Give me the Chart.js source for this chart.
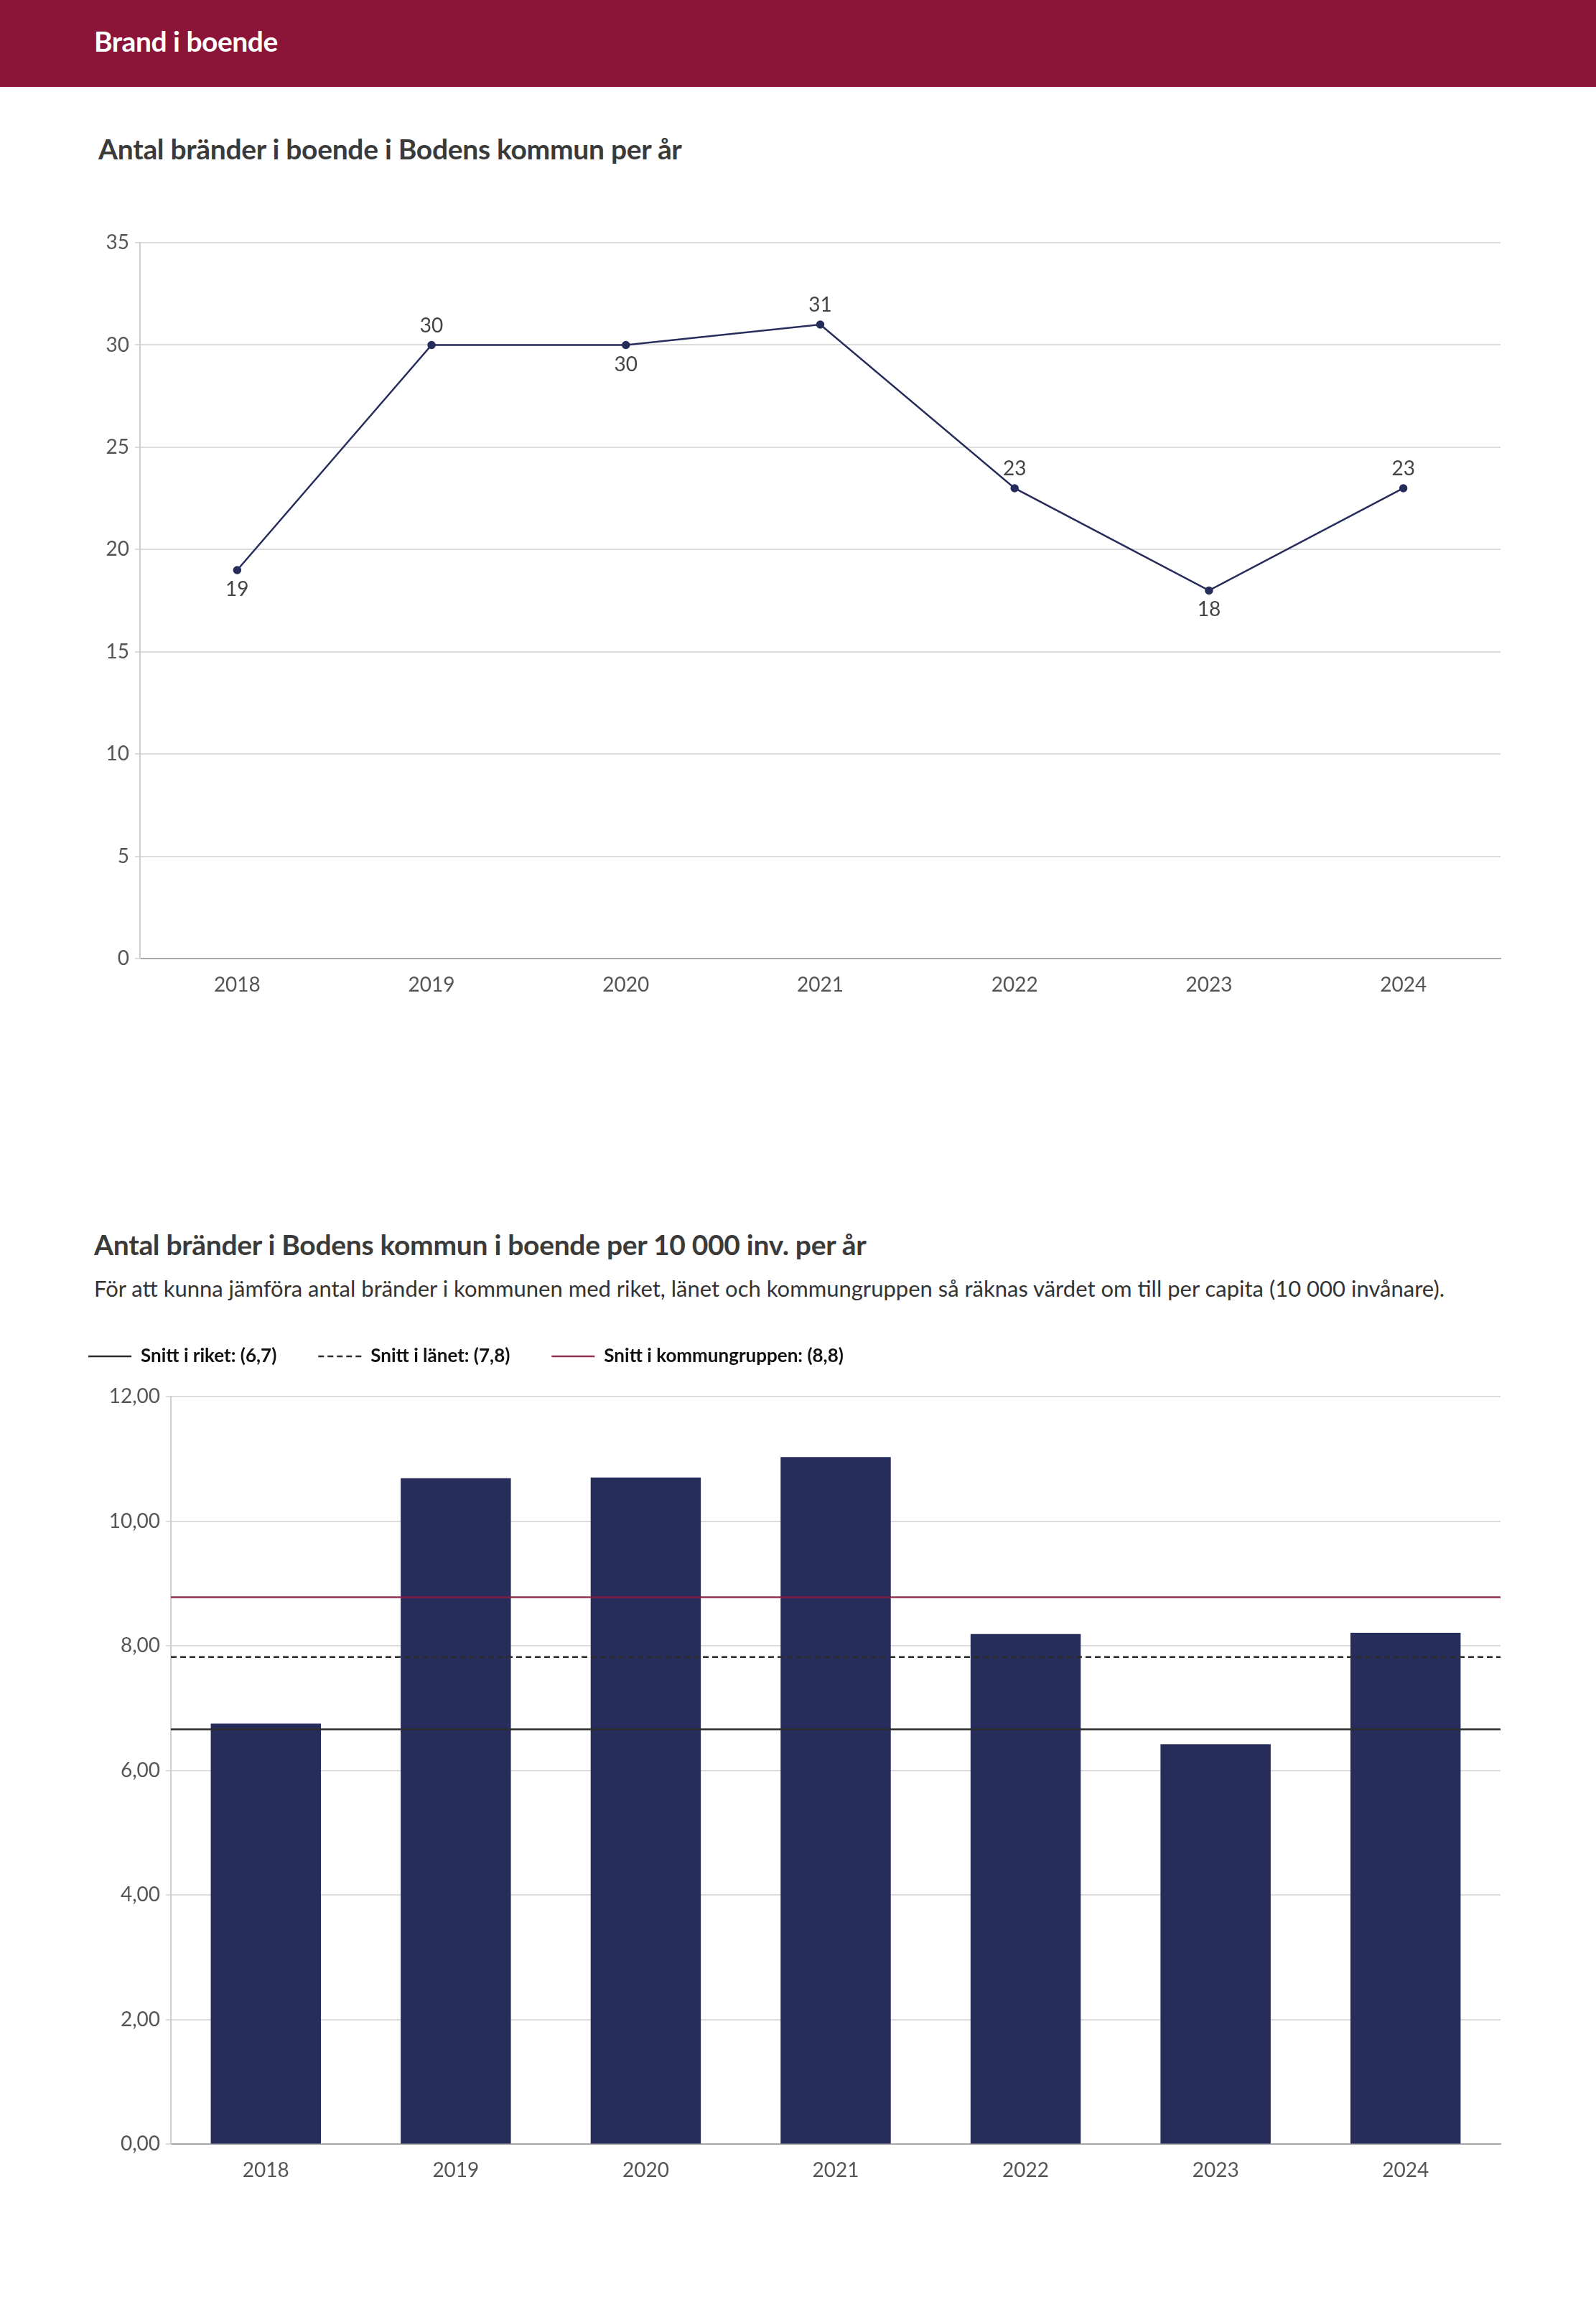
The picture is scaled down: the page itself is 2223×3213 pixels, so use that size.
<!DOCTYPE html>
<html lang="sv">
<head>
<meta charset="utf-8">
<title>Brand i boende</title>
<script src="https://cdn.jsdelivr.net/npm/chart.js@4.4.1/dist/chart.umd.min.js"></script>
<style>
    html, body { margin: 0; padding: 0; background: #fff; }
    body { width: 2223px; height: 3213px; position: relative; overflow: hidden; font-family: Lato, "Open Sans", sans-serif; color: #333; }
    .header { position: absolute; left: 0; top: 0; width: 2223px; height: 121px; background: #8b1538; }
    .header h1 { position: absolute; left: 131px; top: 0; margin: 0; line-height: 114px; font-size: 39px; font-weight: 700; color: #fff; letter-spacing: -0.5px; }
    h2 { position: absolute; margin: 0; font-size: 39px; font-weight: 700; color: #3a3a3a; letter-spacing: -0.3px; }
    .sub { position: absolute; margin: 0; font-size: 31px; color: #333; }
    .box { position: absolute; }
</style>
</head>
<body>
<div class="header"><h1>Brand i boende</h1></div>

<h2 style="left:137px; top:184px;">Antal bränder i boende i Bodens kommun per år</h2>
<div class="box" style="left:120px; top:300px; width:1990px; height:1121px;">
    <canvas id="lineChart"></canvas>
</div>

<h2 style="left:131px; top:1710px;">Antal bränder i Bodens kommun i boende per 10 000 inv. per år</h2>
<p class="sub" style="left:131px; top:1775px;">För att kunna jämföra antal bränder i kommunen med riket, länet och kommungruppen så räknas värdet om till per capita (10 000 invånare).</p>
<div class="box" style="left:65px; top:1818px; width:2035px; height:1244px;">
    <canvas id="barChart"></canvas>
</div>

<script>
const years = ['2018', '2019', '2020', '2021', '2022', '2023', '2024'];
const fireCounts = [19, 30, 30, 31, 23, 18, 23];
const firesPer10k = [6.75, 10.69, 10.70, 11.03, 8.19, 6.42, 8.21];

const refLabels = ['Snitt i riket: (6,7)', 'Snitt i länet: (7,8)', 'Snitt i kommungruppen: (8,8)'];
const refValues = [6.66, 7.82, 8.78];

const countMax = 35;
const countStep = 5;
const rateMax = 12;
const rateStep = 2;

// styles for the reference lines
const refColors = ['#2b2b2b', '#2b2b2b', 'rgba(139, 26, 63, 0.9)'];
const refDashes = [[], [8, 5], []];

const navy = '#272d5b';

Chart.defaults.font.family = 'Lato, "Open Sans", sans-serif';
Chart.defaults.color = '#555';

const pointLabels = {
    id: 'pointLabels',
    afterDatasetsDraw(chart) {
        const ctx = chart.ctx;
        const meta = chart.getDatasetMeta(0);
        const values = chart.data.datasets[0].data;
        ctx.save();
        ctx.font = '28px Lato, "Open Sans", sans-serif';
        ctx.fillStyle = '#444';
        ctx.textAlign = 'center';
        ctx.textBaseline = 'middle';
        meta.data.forEach((pt, i) => {
            // below when the next value is higher, otherwise above
            const below = i < values.length - 1 && values[i] < values[i + 1];
            ctx.fillText(String(values[i]), pt.x, below ? pt.y + 27 : pt.y - 27);
        });
        ctx.restore();
    }
};

const refLines = {
    id: 'refLines',
    afterDatasetsDraw(chart) {
        const {ctx, chartArea, scales} = chart;
        refValues.forEach((v, i) => {
            const py = scales.y.getPixelForValue(v);
            ctx.save();
            ctx.strokeStyle = refColors[i];
            ctx.lineWidth = 2.5;
            ctx.setLineDash(refDashes[i]);
            ctx.beginPath();
            ctx.moveTo(chartArea.left, py);
            ctx.lineTo(chartArea.right, py);
            ctx.stroke();
            ctx.restore();
        });
    }
};

// a bit more room between the legend and the plot
const legendGap = {
    id: 'legendGap',
    beforeInit(chart) {
        const legend = chart.legend;
        if (!legend) return;
        const fit = legend.fit;
        legend.fit = function () {
            fit.call(this);
            this.height += 33;
        };
    }
};

new Chart(document.getElementById('lineChart'), {
    type: 'line',
    data: {
        labels: years,
        datasets: [{
            label: 'Antal bränder',
            data: fireCounts,
            borderColor: navy,
            backgroundColor: navy,
            borderWidth: 2.5,
            pointRadius: 4.5,
            pointHoverRadius: 4.5,
            tension: 0
        }]
    },
    options: {
        responsive: true,
        maintainAspectRatio: false,
        animation: false,
        layout: { padding: { left: 0, right: 20, top: 38, bottom: 20 } },
        plugins: {
            legend: { display: false },
            tooltip: { enabled: false }
        },
        scales: {
            x: {
                offset: true,
                grid: { display: false },
                border: { color: '#a8a8a8', width: 2 },
                ticks: { padding: 12, font: { size: 28 }, color: '#555' }
            },
            y: {
                min: 0,
                max: countMax,
                ticks: { stepSize: countStep, padding: 8, font: { size: 28 }, color: '#555' },
                grid: { color: '#dcdcdc', lineWidth: 2, tickLength: 7 },
                border: { color: '#cfcfcf', width: 2 },
                afterFit: s => { s.width = 75; }
            }
        }
    },
    plugins: [pointLabels]
});

new Chart(document.getElementById('barChart'), {
    type: 'bar',
    data: {
        labels: years,
        datasets: [{
            label: 'Per 10 000 inv.',
            data: firesPer10k,
            backgroundColor: navy,
            borderWidth: 0,
            barPercentage: 0.58,
            categoryPercentage: 1
        }]
    },
    options: {
        responsive: true,
        maintainAspectRatio: false,
        animation: false,
        layout: { padding: { left: 0, right: 10, top: 0, bottom: 10 } },
        plugins: {
            tooltip: { enabled: false },
            legend: {
                position: 'top',
                align: 'start',
                labels: {
                    usePointStyle: true,
                    pointStyleWidth: 60,
                    padding: 58,
                    color: '#111',
                    font: { size: 26, weight: 'bold' },
                    generateLabels: () => refLabels.map((t, i) => ({
                        text: t,
                        pointStyle: 'line',
                        fillStyle: refColors[i],
                        strokeStyle: refColors[i],
                        lineWidth: 2.5,
                        lineDash: refDashes[i],
                        hidden: false,
                        fontColor: '#111'
                    }))
                },
                onClick: () => {}
            }
        },
        scales: {
            x: {
                grid: { display: false },
                border: { color: '#a8a8a8', width: 2 },
                ticks: { padding: 12, font: { size: 28 }, color: '#555' }
            },
            y: {
                min: 0,
                max: rateMax,
                ticks: {
                    stepSize: rateStep,
                    padding: 8,
                    font: { size: 28 },
                    color: '#555',
                    callback: v => v.toFixed(2).replace('.', ',')
                },
                grid: { color: '#dcdcdc', lineWidth: 2, tickLength: 7 },
                border: { color: '#cfcfcf', width: 2 },
                afterFit: s => { s.width = 173; }
            }
        }
    },
    plugins: [refLines, legendGap]
});
</script>
</body>
</html>
